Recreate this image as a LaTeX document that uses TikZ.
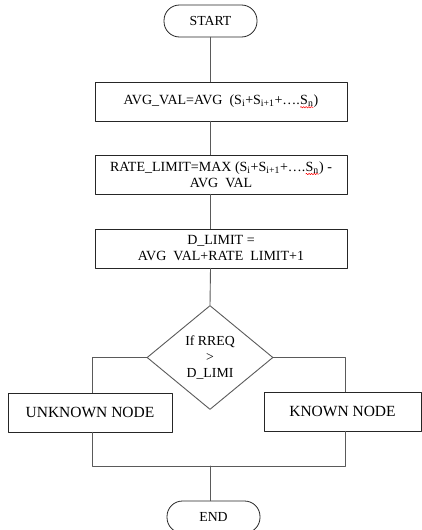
\documentclass[tikz,border=0pt]{standalone}
\usepackage{fontspec}
\setmainfont{Liberation Serif}
\usetikzlibrary{shapes.geometric,decorations.pathmorphing}
\definecolor{linegray}{HTML}{5A5A5A}

% red spell-check squiggle under a word
\newcommand{\spellmark}[1]{\tikz[baseline=(w.base)]{\node[draw=none,inner sep=0pt,outer sep=0pt,minimum width=0pt,minimum height=0pt,rounded corners=0pt] (w) {#1};
	\draw[red,line width=0.5pt,rounded corners=0pt,decorate,decoration={snake,amplitude=0.7pt,segment length=2.6pt}]
	([yshift=-0.6pt]w.south west) -- ([yshift=-0.6pt]w.south east);}}

\begin{document}
\begin{tikzpicture}[
		x=1pt,
		y=-1pt,
		line cap=round,
		line join=round,
		terminal/.style={draw=black!85,line width=0.8pt,rounded corners=15.5pt,minimum width=93pt,minimum height=32pt,inner sep=0pt,font=\fontsize{13.8}{16}\selectfont},
		procbox/.style={draw=black!85,line width=0.8pt,minimum width=252pt,minimum height=39pt,inner sep=0pt,align=center,font=\fontsize{14}{16}\selectfont},
		outbox/.style={draw=black!85,line width=0.8pt,minimum height=39pt,inner sep=0pt,font=\fontsize{15.5}{18}\selectfont},
		decision/.style={diamond,draw=linegray,line width=0.9pt,minimum width=126pt,minimum height=104pt,inner sep=0pt,align=center,font=\fontsize{13.8}{16}\selectfont},
		link/.style={draw=linegray,line width=0.9pt}
	]
	
	\useasboundingbox (0,0) rectangle (422,530);
	
	% Start and the three computation steps
	\node[terminal] (start) at (210.5,21) {START};
	\node[procbox] (avg) at (221,101.5)
	{AVG\_VAL=AVG\ \ (S\textsubscript{i}+S\textsubscript{i+1}+….\spellmark{S\textsubscript{n}})};
	\node[procbox] (rate) at (221,174.5)
	{RATE\_LIMIT=MAX (S\textsubscript{i}+S\textsubscript{i+1}+….\spellmark{S\textsubscript{n}}) -\\AVG\ \ VAL};
	\node[procbox] (dlim) at (221,248.5)
	{D\_LIMIT =\\AVG\ \ VAL+RATE\ \ LIMIT+1};
	
	% Test on the request
	\node[decision] (test) at (210,357.5) {If RREQ\\>\\D\_LIMI};
	
	% Outcomes
	\node[outbox,minimum width=164pt] (unknown) at (90,412.5) {UNKNOWN NODE};
	\node[outbox,minimum width=157pt] (known) at (342.5,411.5) {KNOWN NODE};
	
	% End
	\node[terminal] (end) at (213.5,517) {END};
	
	% Branch and join points
	\coordinate (lbr) at (92,466);
	\coordinate (rbr) at (345,466);
	\coordinate (join) at (210,466);
	
	% Connectors
	\draw[link] (start.south) -- (start.south |- avg.north);
	\draw[link] (start.south |- avg.south) -- (start.south |- rate.north);
	\draw[link] (start.south |- rate.south) -- (start.south |- dlim.north);
	\draw[link] (start.south |- dlim.south) -- (test.north);
	\draw[link] (test.west) -| (lbr |- unknown.north);
	\draw[link] (test.east) -| (rbr |- known.north);
	\draw[link] (lbr |- unknown.south) -- (lbr) -- (rbr) -- (rbr |- known.south);
	\draw[link] (join) -- (join |- end.north);
	
\end{tikzpicture}
\end{document}
